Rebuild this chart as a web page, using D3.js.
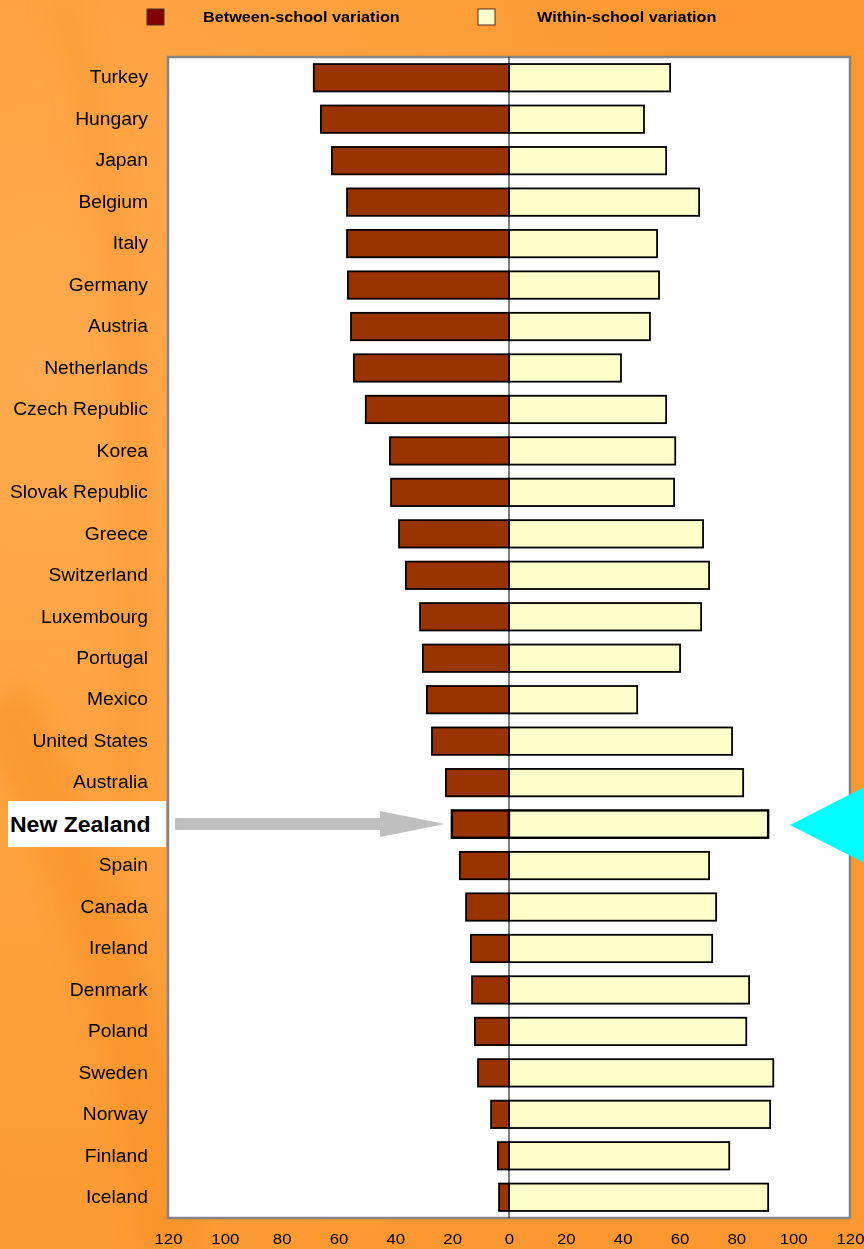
<!DOCTYPE html>
<html>
<head>
<meta charset="utf-8">
<script src="https://cdn.jsdelivr.net/npm/d3@7"></script>
<style>
  html, body { margin: 0; padding: 0; background: #FD9A30; }
  svg { display: block; font-family: "Liberation Sans", Arial, sans-serif; }
</style>
</head>
<body>
<svg id="chart" width="864" height="1249"></svg>
<script>
const countries = ["Turkey","Hungary","Japan","Belgium","Italy","Germany","Austria","Netherlands","Czech Republic","Korea","Slovak Republic","Greece","Switzerland","Luxembourg","Portugal","Mexico","United States","Australia","New Zealand","Spain","Canada","Ireland","Denmark","Poland","Sweden","Norway","Finland","Iceland"];
const betweenSchool = [68.7,66.2,62.3,57.0,57.0,56.7,55.6,54.6,50.4,41.9,41.5,38.7,36.3,31.3,30.3,28.9,27.1,22.2,20.1,17.3,15.1,13.4,13.0,12.0,10.9,6.3,3.9,3.5];
const withinSchool = [56.7,47.5,55.3,66.9,52.1,52.8,49.6,39.4,55.3,58.5,58.1,68.3,70.4,67.6,60.2,45.1,78.5,82.4,91.2,70.4,72.9,71.5,84.5,83.5,93.0,91.9,77.5,91.2];
const tickValues = [-120,-100,-80,-60,-40,-20,0,20,40,60,80,100,120];
const legendLabels = ["Between-school variation","Within-school variation"];
const highlight = "New Zealand";

const svg = d3.select("#chart");
const W = 864, H = 1249;
const stretch = (sel, k) => sel.each(function(){
  const len = this.getComputedTextLength();
  d3.select(this).attr("textLength", len*k).attr("lengthAdjust","spacingAndGlyphs");
});

// background with soft swirls
const defs = svg.append("defs");
const g1 = defs.append("radialGradient").attr("id","bgGrad").attr("cx","0.05").attr("cy","0.3").attr("r","0.8");
g1.append("stop").attr("offset","0").attr("stop-color","#FFAA4E");
g1.append("stop").attr("offset","1").attr("stop-color","#FC982F");
svg.append("rect").attr("width",W).attr("height",H).attr("fill","url(#bgGrad)");
const blur = defs.append("filter").attr("id","blur").attr("x","-50%").attr("y","-50%").attr("width","200%").attr("height","200%");
blur.append("feGaussianBlur").attr("stdDeviation",10);
const swirl = svg.append("g").attr("filter","url(#blur)").attr("fill","none");
swirl.append("path").attr("d","M 0 700 C 80 850, 150 1050, 170 1249")
  .attr("stroke","#F8922A").attr("stroke-width",60).attr("opacity",0.6);
swirl.append("path").attr("d","M 60 0 C 140 250, 150 500, 120 800")
  .attr("stroke","#F9952D").attr("stroke-width",30).attr("opacity",0.4);

// plot area
const plotLeft = 168, plotRight = 850, plotTop = 57, plotBottom = 1218;
const x = d3.scaleLinear().domain([-120,120]).range([plotLeft, plotRight]);
const y = d3.scaleBand().domain(countries).range([plotTop, plotBottom]).paddingInner(0.34).paddingOuter(0.17);

svg.append("rect").attr("x",plotLeft).attr("y",plotTop).attr("width",plotRight-plotLeft).attr("height",plotBottom-plotTop)
  .attr("fill","#FFFFFF").attr("stroke","#858585").attr("stroke-width",2.5);

// bars
const rows = countries.map((c,i)=>({c, b: betweenSchool[i], w: withinSchool[i]}));
const bars = svg.append("g");
bars.selectAll("rect.b").data(rows).join("rect").attr("class","b")
  .attr("x", d=>x(-d.b)).attr("y", d=>y(d.c)).attr("width", d=>x(0)-x(-d.b)).attr("height", y.bandwidth())
  .attr("fill","#993300").attr("stroke","#000").attr("stroke-width", d=>d.c===highlight?2.4:1.8);
bars.selectAll("rect.w").data(rows).join("rect").attr("class","w")
  .attr("x", x(0)).attr("y", d=>y(d.c)).attr("width", d=>x(d.w)-x(0)).attr("height", y.bandwidth())
  .attr("fill","#FFFFCC").attr("stroke","#000").attr("stroke-width", d=>d.c===highlight?2.4:1.8);

// zero line
svg.append("line").attr("x1",x(0)).attr("x2",x(0)).attr("y1",plotTop).attr("y2",plotBottom)
  .attr("stroke","#000").attr("stroke-width",1);

// x axis labels
const xAxis = d3.axisBottom(x).tickValues(tickValues).tickFormat(d=>Math.abs(d)).tickSize(0).tickPadding(0);
const ax = svg.append("g").attr("transform",`translate(0,${plotBottom+15})`).call(xAxis);
ax.select(".domain").remove();
ax.selectAll("text").attr("font-size",15).attr("fill","#000").attr("font-family","Liberation Sans, Arial, sans-serif").call(stretch, 1.12);

// y labels
const yAxis = d3.axisLeft(y).tickSize(0).tickPadding(0);
const ay = svg.append("g").attr("transform",`translate(148,0)`).call(yAxis);
ay.select(".domain").remove();
ay.selectAll("text").attr("font-size",18).attr("fill","#000").attr("font-family","Liberation Sans, Arial, sans-serif");
ay.selectAll(".tick").filter(d=>d===highlight).each(function(){
  const t = d3.select(this);
  t.select("text").attr("font-weight","bold").attr("font-size",21.5).attr("text-anchor","start").attr("x",-138).attr("dy","0.36em");
  t.insert("rect","text").attr("x",-140).attr("y",-23).attr("width",158).attr("height",46).attr("fill","#FFFFFF");
});
ay.selectAll("text").call(stretch, 1.07);

// arrow
const ay0 = y(highlight) + y.bandwidth()/2;
svg.append("path")
  .attr("d",`M 175 ${ay0-6} L 380 ${ay0-6} L 380 ${ay0-13} L 445 ${ay0} L 380 ${ay0+13} L 380 ${ay0+6} L 175 ${ay0+6} Z`)
  .attr("fill","#BFBFBF");

// cyan triangle
svg.append("path").attr("d",`M 790 ${ay0+1} L 890 ${ay0-50} L 890 ${ay0+52} Z`).attr("fill","#00FFFF");

// legend
const leg = svg.append("g");
const legX = [147, 478], legTextX = [203, 537];
const legFill = ["#800000","#FFFFCC"];
legendLabels.forEach((l,i)=>{
  leg.append("rect").attr("x",legX[i]).attr("y",9).attr("width",17).attr("height",16)
    .attr("fill",legFill[i]).attr("stroke","#4a3020").attr("stroke-width",1);
  leg.append("text").attr("x",legTextX[i]).attr("y",22).attr("font-size",14.5).attr("font-weight","bold").attr("fill","#000").text(l)
    .call(stretch, 1.12);
});
</script>
</body>
</html>
